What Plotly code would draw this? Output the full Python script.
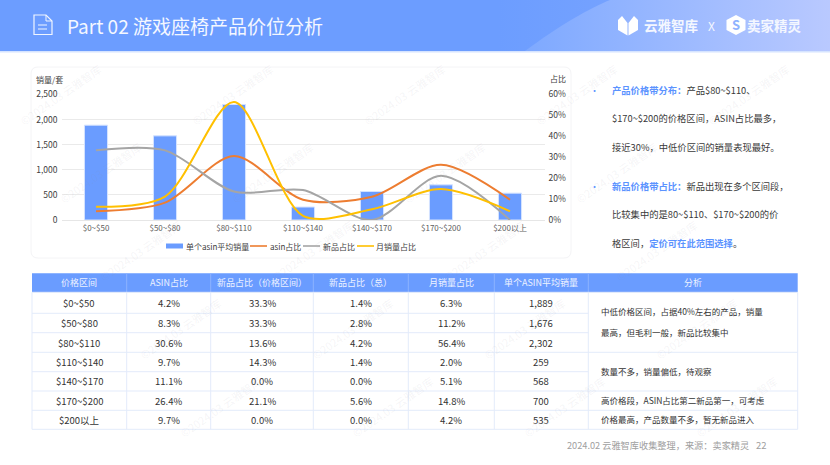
import base64
import plotly.graph_objects as go

W, H = 830, 465
FONT = "Noto Sans CJK SC"

# chart data
price_bands = ["$0~$50", "$50~$80", "$80~$110", "$110~$140", "$140~$170", "$170~$200", "$200以上"]
avg_sales = [1889, 1676, 2302, 259, 568, 700, 535]
asin_share = [4.2, 8.3, 30.6, 9.7, 11.1, 26.4, 9.7]
new_share_band = [33.3, 33.3, 13.6, 14.3, 0.0, 21.1, 0.0]
new_share_total = [1.4, 2.8, 4.2, 1.4, 0.0, 5.6, 0.0]
month_share = [6.3, 11.2, 56.4, 2.0, 5.1, 14.8, 4.2]

# table text
table_headers = ["价格区间", "ASIN占比", "新品占比（价格区间）", "新品占比（总）", "月销量占比", "单个ASIN平均销量", "分析"]
analysis_lines = [
    ("中低价格区间，占据40%左右的产品，销量", 311),
    ("最高，但毛利一般，新品比较集中", 331.5),
    ("数量不多，销量偏低，待观察", 370.5),
    ("高价格段，ASIN占比第二新品第一，可考虑", 400),
    ("价格最高，产品数量不多，暂无新品进入", 418.5),
]

# side notes
notes = [
    ("<span style='color:#5b93ff'><b>产品价格带分布：</b></span>产品$80~$110、", 90),
    ("$170~$200的价格区间，ASIN占比最多，", 118),
    ("接近30%，中低价区间的销量表现最好。", 147),
    ("<span style='color:#5b93ff'><b>新品价格带占比：</b></span>新品出现在多个区间段，", 186),
    ("比较集中的是80~$110、$170~$200的价", 214),
    ("格区间，<span style='color:#5b93ff'><b>定价可在此范围选择</b></span>。", 243),
]


def px(x):
    return x / W


def py(y):
    return 1 - y / H


def text(x, y, s, size=9, color="#404040", anchor="center", **kw):
    fig.add_annotation(x=px(x), y=py(y), xref="paper", yref="paper", text=s, showarrow=False,
                       xanchor=anchor, yanchor="middle", borderpad=0, borderwidth=0,
                       font=dict(family=FONT, size=size, color=color), **kw)


def rect(x0, y0, x1, y1, fill=None, line=None, lw=1, layer="below"):
    fig.add_shape(type="rect", xref="paper", yref="paper", x0=px(x0), x1=px(x1), y0=py(y0), y1=py(y1),
                  fillcolor=fill, line=dict(color=line, width=lw if line else 0), layer=layer)


def hline(x0, x1, y, color, width=1, layer="below"):
    fig.add_shape(type="line", xref="paper", yref="paper", x0=px(x0), x1=px(x1), y0=py(y), y1=py(y),
                  line=dict(color=color, width=width), layer=layer)


def path(points, fill=None, line=None, lw=1, layer="above"):
    d = "M" + " L".join(f"{px(a):.5f},{py(b):.5f}" for a, b in points) + " Z"
    fig.add_shape(type="path", xref="paper", yref="paper", path=d, fillcolor=fill,
                  line=dict(color=line, width=lw if line else 0), layer=layer)


fig = go.Figure()

# bars and lines
fig.add_trace(go.Bar(x=price_bands, y=avg_sales, name="单个asin平均销量", width=0.335,
                     marker=dict(color="#6a9cff", line=dict(color="#d5e3ff", width=1))))
line_series = [("asin占比", asin_share, "#ed7d31"), ("新品占比", new_share_band, "#a5a5a5"), ("月销量占比", month_share, "#ffc000")]
for name, vals, color in line_series:
    fig.add_trace(go.Scatter(x=price_bands, y=vals, name=name, yaxis="y2", mode="lines",
                             line=dict(color=color, width=2, shape="spline", smoothing=0.85)))

# header band with gradient, as an svg image
svg = """<svg xmlns='http://www.w3.org/2000/svg' width='830' height='51'>
<defs><linearGradient id='g' x1='0' x2='1' y1='0' y2='0'>
<stop offset='0' stop-color='#6c9dff'/><stop offset='0.6' stop-color='#6c9dff'/><stop offset='1' stop-color='#86abff'/></linearGradient>
<linearGradient id='h' x1='0' x2='1' y1='0' y2='0'>
<stop offset='0' stop-color='#7ea9ff'/><stop offset='1' stop-color='#b9c9ff'/></linearGradient></defs>
<rect width='830' height='51' fill='url(#g)'/>
<path d='M525 51 C560 25 590 8 610 0 L830 0 L830 51 Z' fill='url(#h)'/></svg>"""
src = "data:image/svg+xml;base64," + base64.b64encode(svg.encode()).decode()
fig.add_layout_image(source=src, xref="paper", yref="paper", x=0, y=1, sizex=1, sizey=51 / H,
                     xanchor="left", yanchor="top", sizing="stretch", layer="below")
rect(0, 51, 830, 52.5, fill="#d6e4ff")

# card behind the chart
fig.add_shape(type="path", xref="paper", yref="paper", layer="below", fillcolor="white",
              line=dict(color="#f4f4f6", width=1),
              path=f"M{px(38)},{py(67)} L{px(564)},{py(67)} Q{px(571)},{py(67)} {px(571)},{py(74)} "
                   f"L{px(571)},{py(251)} Q{px(571)},{py(258)} {px(564)},{py(258)} L{px(38)},{py(258)} "
                   f"Q{px(31)},{py(258)} {px(31)},{py(251)} L{px(31)},{py(74)} Q{px(31)},{py(67)} {px(38)},{py(67)} Z")

# watermark, kept fully inside the page
for row in range(-1, 7):
    for col in range(-1, 7):
        x = 60 + col * 172 + row * 40
        y = 95 + row * 78
        if 48 < x < 782 and 85 < y < 432:
            text(x, y, "©2024.03 云雅智库", size=11, color="rgba(150,150,160,0.10)", textangle=-35)

# title
text(67, 26, "Part 02 游戏座椅产品价位分析", size=19, color="#f4f7ff", anchor="left")

# document icon
path([(34, 15), (46, 15), (52, 21), (52, 34.5), (34, 34.5)], line="#f0f5ff", lw=1.2)
path([(46, 15), (46, 21), (52, 21)], line="#f0f5ff", lw=1)
for yy in (25, 29):
    hline(38, 47, yy, "#f0f5ff", layer="above")

# logos
path([(618, 20), (622, 16), (627.5, 23), (627.5, 35.5), (618, 30)], fill="white")
path([(638, 20), (634, 16), (628.5, 23), (628.5, 35.5), (638, 30)], fill="white")
text(644, 25, "<b>云雅智库</b>", size=13.5, color="#f4f7ff", anchor="left")
text(711, 25.5, "X", size=12, color="#f4f7ff")
path([(736, 15), (745.5, 20), (745.5, 30), (736, 35), (726.5, 30), (726.5, 20)], fill="white")
text(736, 25, "<b>S</b>", size=13, color="#8fb2ff")
text(747, 25, "<b>卖家精灵</b>", size=13.5, color="#f4f7ff", anchor="left")

# axis titles
text(36, 79, "销量/套", size=8, anchor="left")
text(549.5, 78.5, "占比", size=8, anchor="left")

# legend drawn by hand, the reference packs it tighter than the native one
rect(166, 243.5, 183, 248.5, fill="#6a9cff")
text(186, 246, fig.data[0].name, size=8, anchor="left")
for (x0, tx), (name, vals, color) in zip([(250, 270), (303, 323), (357, 376)], line_series):
    hline(x0, x0 + 17, 246, color, width=1.6)
    text(tx, 246, name, size=8, anchor="left")

# side notes
for s, y in notes:
    text(612, y, s, size=9.3, color="#3a3a3a", anchor="left")
for y in (90, 186):
    text(594, y, "•", size=9, color="#5b93ff")

# table
col_edges = [32, 126.7, 210.7, 313.3, 408.3, 494.3, 588.3, 797.7]
row_edges = [292.3, 313.3, 332.7, 352.3, 371.7, 391, 410.3, 429.3]
rect(32, 273.3, 797.7, 292.3, fill="#6a9cff")
grid = "#e3ebfb"
for x in col_edges:
    fig.add_shape(type="line", xref="paper", yref="paper", x0=px(x), x1=px(x), y0=py(292.3), y1=py(429.3),
                  line=dict(color=grid, width=1), layer="below")
for x in col_edges[1:-1]:
    fig.add_shape(type="line", xref="paper", yref="paper", x0=px(x), x1=px(x), y0=py(273.3), y1=py(292.3),
                  line=dict(color="#8db3ff", width=1), layer="below")
for i, y in enumerate(row_edges):
    # the analysis column only splits after rows 3, 5 and 6
    hline(32, 797.7 if i in (0, 3, 5, 6, 7) else 588.3, y, grid)

for j, h in enumerate(table_headers):
    text((col_edges[j] + col_edges[j + 1]) / 2, 282, h, size=9, color="#eef3ff")

columns = [
    price_bands,
    [f"{v:.1f}%" for v in asin_share],
    [f"{v:.1f}%" for v in new_share_band],
    [f"{v:.1f}%" for v in new_share_total],
    [f"{v:.1f}%" for v in month_share],
    [f"{v:,}" for v in avg_sales],
]
for j, col in enumerate(columns):
    cx = (col_edges[j] + col_edges[j + 1]) / 2
    for i, s in enumerate(col):
        text(cx, (row_edges[i] + row_edges[i + 1]) / 2, s, size=9.5, color="#333333")
for s, y in analysis_lines:
    text(601, y, s, size=8.5, color="#333333", anchor="left")

# footer
text(749, 445, "2024.02 云雅智库收集整理，来源：卖家精灵", size=9.2, color="#a0a0a0", anchor="right")
text(767, 445, "22", size=9.5, color="#a0a0a0", anchor="right")

fig.update_layout(
    width=W, height=H, margin=dict(l=0, r=0, t=0, b=0, pad=0, autoexpand=False),
    paper_bgcolor="white", plot_bgcolor="rgba(0,0,0,0)",
    font=dict(family=FONT, size=8, color="#404040"),
    showlegend=False, bargap=0.66,
    xaxis=dict(domain=[px(61.5), px(544.5)], showgrid=False, ticks="", showline=True, linecolor="#e6e6e6",
               tickfont=dict(size=8, color="#606060"), fixedrange=True),
    yaxis=dict(domain=[py(220), py(94.5)], range=[0, 2500], dtick=500, tickformat=",", gridcolor="#eaeaea",
               zeroline=False, tickfont=dict(size=8.5, color="#404040"), ticklabelstandoff=3),
    yaxis2=dict(overlaying="y", side="right", range=[0, 60], dtick=10, ticksuffix="%", showgrid=False,
                zeroline=False, tickfont=dict(size=8.5, color="#404040"), ticklabelstandoff=3),
)

fig.write_html("out.html", config=dict(displayModeBar=False), post_script="document.body.style.margin='0';")
